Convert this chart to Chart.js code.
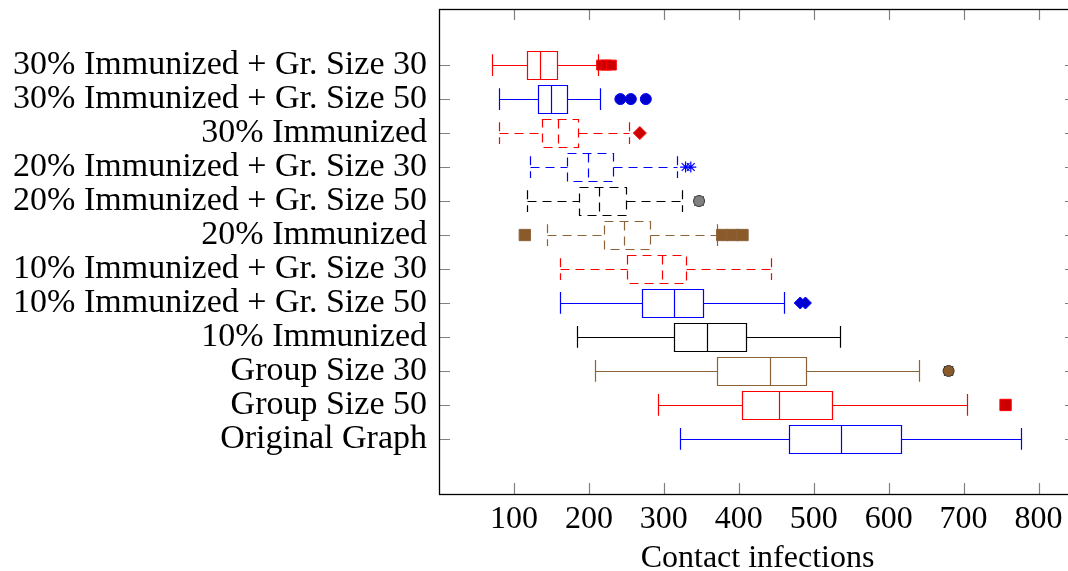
<!DOCTYPE html>
<html lang="en">
<head>
<meta charset="UTF-8">
<title>Contact infections</title>
<script src="https://cdn.jsdelivr.net/npm/chart.js"></script>
<style>
    html, body { margin: 0; padding: 0; background: #ffffff; overflow: hidden; }
    .chart-container { width: 1085px; height: 571px; }
</style>
</head>
<body>
<div class="chart-container"><canvas id="boxChart" width="1085" height="571"></canvas></div>
<script>
    // groups, listed top to bottom as in the figure
    const categories = [
        '30% Immunized + Gr. Size 30',
        '30% Immunized + Gr. Size 50',
        '30% Immunized',
        '20% Immunized + Gr. Size 30',
        '20% Immunized + Gr. Size 50',
        '20% Immunized',
        '10% Immunized + Gr. Size 30',
        '10% Immunized + Gr. Size 50',
        '10% Immunized',
        'Group Size 30',
        'Group Size 50',
        'Original Graph'
    ];
    const whiskerLow    = [71, 80, 80, 121, 117, 144, 161, 161.5, 184, 208.5, 292, 321];
    const lowerQuartile = [118, 132, 138, 171, 187, 220, 251, 271.5, 314, 371, 404, 467];
    const median        = [135, 149.5, 159, 199, 214, 247.5, 298, 314, 357, 442, 454, 536];
    const upperQuartile = [157, 171, 185, 232.5, 249, 282, 330, 352, 409, 490, 525, 617];
    const whiskerHigh   = [212.5, 215.5, 253, 317, 324, 370.5, 443, 460.5, 535, 640, 704, 776];
    const outliers = [
        [217, 223, 230],
        [242, 256, 276],
        [268],
        [329, 336],
        [347],
        [114.5, 378, 392, 405],
        [],
        [482, 489],
        [],
        [680],
        [756],
        []
    ];
    const xTicks = [100, 200, 300, 400, 500, 600, 700, 800];

    // styling per row (same order as categories)
    const RED = '#ff0000', BLUE = '#0000ff', BLACK = '#000000', BROWN = '#8c6239';
    const rowStyle = [
        { color: RED,   dash: false, mark: 'rect',    fill: '#cc0000', r: 7 },
        { color: BLUE,  dash: false, mark: 'circle',  fill: '#0000cc', r: 5.5 },
        { color: RED,   dash: true,  mark: 'rectRot', fill: '#cc0000', r: 6.5 },
        { color: BLUE,  dash: true,  mark: 'star',    fill: '#0000ff', r: 5.5 },
        { color: BLACK, dash: true,  mark: 'otimes',  fill: '#808080', r: 5.5 },
        { color: BROWN, dash: true,  mark: 'rect',    fill: '#8b5a2b', r: 8 },
        { color: RED,   dash: true },
        { color: BLUE,  dash: false, mark: 'rectRot', fill: '#0000cc', r: 6 },
        { color: BLACK, dash: false },
        { color: BROWN, dash: false, mark: 'otimes',  fill: '#8b5a2b', r: 5.5 },
        { color: RED,   dash: false, mark: 'rect',    fill: '#cc0000', r: 8 },
        { color: BLUE,  dash: false }
    ];
    const serif = "'Liberation Serif', 'DejaVu Serif', serif";
    const n = categories.length;
    const rowPos = i => n - i;

    // outlier datasets
    const datasets = [];
    outliers.forEach((vals, i) => {
        if (!vals.length) return;
        const st = rowStyle[i];
        const pts = vals.map(v => ({ x: v, y: rowPos(i) }));
        if (st.mark === 'otimes') {
            datasets.push({ data: pts, pointStyle: 'circle', pointRadius: st.r,
                backgroundColor: st.fill, borderColor: '#333333', borderWidth: 1 });
            datasets.push({ data: pts, pointStyle: 'crossRot', pointRadius: st.r + 1,
                borderColor: '#111111', borderWidth: 1.3 });
        } else if (st.mark === 'star') {
            datasets.push({ data: pts, pointStyle: 'star', pointRadius: st.r,
                borderColor: st.fill, borderWidth: 1.2 });
        } else {
            datasets.push({ data: pts, pointStyle: st.mark, pointRadius: st.r,
                backgroundColor: st.fill, borderColor: st.color, borderWidth: 1 });
        }
    });

    // boxes and whiskers, drawn through the chart scales
    const boxPlugin = {
        id: 'boxes',
        beforeDatasetsDraw(chart) {
            const { ctx, scales: { x, y } } = chart;
            ctx.save();
            categories.forEach((c, i) => {
                const st = rowStyle[i];
                const p = rowPos(i);
                const yc = Math.round(y.getPixelForValue(p)) + 0.5;
                const yt = Math.round(y.getPixelForValue(p + 0.4)) + 0.5;
                const yb = Math.round(y.getPixelForValue(p - 0.4)) + 0.5;
                const wt = y.getPixelForValue(p + 0.32);
                const wb = y.getPixelForValue(p - 0.32);
                const px = v => Math.round(x.getPixelForValue(v)) + 0.5;
                const xl = px(whiskerLow[i]), x1 = px(lowerQuartile[i]), xm = px(median[i]);
                const x3 = px(upperQuartile[i]), xh = px(whiskerHigh[i]);
                ctx.strokeStyle = st.color;
                ctx.lineWidth = 1.2;
                ctx.setLineDash(st.dash ? [9, 6] : []);
                // box
                ctx.beginPath();
                ctx.moveTo(x1, yt); ctx.lineTo(x3, yt); ctx.lineTo(x3, yb);
                ctx.lineTo(x1, yb); ctx.closePath();
                ctx.stroke();
                // median
                ctx.beginPath(); ctx.moveTo(xm, yt); ctx.lineTo(xm, yb); ctx.stroke();
                // whiskers
                ctx.beginPath();
                ctx.moveTo(xl, yc); ctx.lineTo(x1, yc);
                ctx.moveTo(x3, yc); ctx.lineTo(xh, yc);
                ctx.stroke();
                ctx.beginPath();
                ctx.moveTo(xl, wt); ctx.lineTo(xl, wb);
                ctx.moveTo(xh, wt); ctx.lineTo(xh, wb);
                ctx.stroke();
            });
            ctx.restore();
        },
        afterDraw(chart) {
            const { ctx, chartArea: a, scales: { x, y } } = chart;
            ctx.save();
            ctx.setLineDash([]);
            // inward tick marks
            ctx.strokeStyle = '#808080';
            ctx.lineWidth = 1.2;
            ctx.beginPath();
            x.ticks.forEach(t => {
                const xp = Math.round(x.getPixelForValue(t.value)) + 0.5;
                ctx.moveTo(xp, a.bottom); ctx.lineTo(xp, a.bottom - 11);
                ctx.moveTo(xp, a.top); ctx.lineTo(xp, a.top + 11);
            });
            y.ticks.forEach(t => {
                const yp = Math.round(y.getPixelForValue(t.value)) + 0.5;
                ctx.moveTo(a.left, yp); ctx.lineTo(a.left + 11, yp);
                ctx.moveTo(a.right, yp); ctx.lineTo(a.right - 11, yp);
            });
            ctx.stroke();
            // frame
            ctx.strokeStyle = '#000000';
            ctx.lineWidth = 1.3;
            ctx.strokeRect(Math.round(a.left) + 0.5, Math.round(a.top) + 0.5,
                a.right - a.left, a.bottom - a.top);
            ctx.restore();
        }
    };

    new Chart(document.getElementById('boxChart'), {
        type: 'scatter',
        data: { datasets: datasets },
        plugins: [boxPlugin],
        options: {
            responsive: false,
            animation: false,
            maintainAspectRatio: false,
            layout: { padding: { top: 9, right: 0, bottom: 0, left: 0 } },
            plugins: { legend: { display: false }, tooltip: { enabled: false } },
            scales: {
                x: {
                    type: 'linear',
                    min: 0,
                    max: 850,
                    grid: { display: false, drawTicks: false, tickLength: 0 },
                    border: { display: false },
                    afterBuildTicks: s => { s.ticks = xTicks.map(v => ({ value: v })); },
                    afterFit: s => { s.height = 77; s.paddingLeft = 0; s.paddingRight = 0; },
                    ticks: {
                        autoSkip: false, maxRotation: 0, padding: 6, color: '#000000',
                        font: { family: serif, size: 32 }
                    },
                    title: {
                        display: true, text: 'Contact infections', color: '#000000',
                        padding: 0, font: { family: serif, size: 32, lineHeight: 0.75 }
                    }
                },
                y: {
                    type: 'linear',
                    min: -0.62,
                    max: 13.65,
                    grid: { display: false, drawTicks: false, tickLength: 0 },
                    border: { display: false },
                    afterBuildTicks: s => {
                        s.ticks = categories.map((c, i) => ({ value: rowPos(i) })).reverse();
                    },
                    afterFit: s => { s.width = 439; s.paddingTop = 0; s.paddingBottom = 0; },
                    ticks: {
                        autoSkip: false, padding: 12, color: '#000000',
                        font: { family: serif, size: 34 },
                        callback: v => categories[n - v]
                    }
                }
            }
        }
    });
</script>
</body>
</html>
